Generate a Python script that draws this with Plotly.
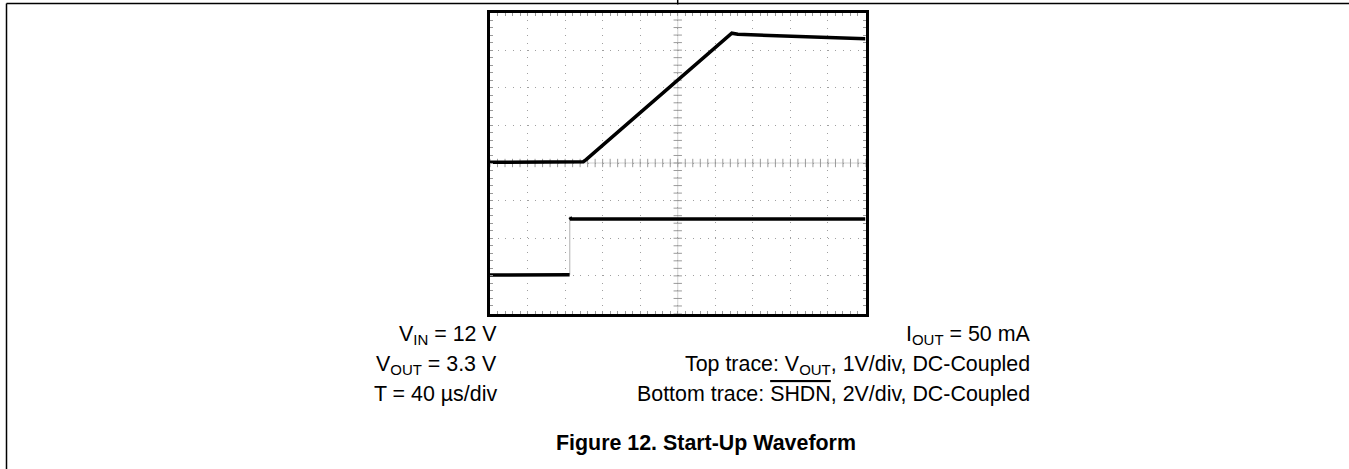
import numpy as np
import plotly.graph_objects as go

W, H = 1349, 469

# ---- data (in divisions: x 0-10, y 0-8) ----
vout_t = [0.0, 1.2, 2.485, 2.56, 6.38, 6.44, 6.6, 7.5, 8.5, 9.3, 10.0]
vout_v = [4.02, 4.03, 4.035, 4.09, 7.42, 7.45, 7.42, 7.39, 7.36, 7.33, 7.30]

shdn_low_t = [0.0, 1.0, 2.12]
shdn_low_v = [1.02, 1.03, 1.03]
shdn_high_t = [2.13, 2.16, 5.0, 10.0]
shdn_high_v = [2.56, 2.51, 2.51, 2.51]
shdn_edge_t = [2.125, 2.125]
shdn_edge_v = [1.03, 2.58]

left_labels = ["V<sub>IN</sub> = 12 V", "V<sub>OUT</sub> = 3.3 V", "T = 40 µs/div"]
right_labels = ["I<sub>OUT</sub> = 50 mA",
                "Top trace: V<sub>OUT</sub>, 1V/div, DC-Coupled",
                "Bottom trace: <span style=\"text-decoration:overline\">SHDN</span>, 2V/div, DC-Coupled"]
caption = "Figure 12. Start-Up Waveform"

# ---- layout geometry (pixels) ----
px0, px1 = 490, 865.5
py0, py1 = 12.5, 313.5
FONT = "Liberation Sans, Arial, sans-serif"
FS = 21.4
GRID = "#a0a0a0"
TICKC = "#9a9a9a"

fig = go.Figure()

# centre cross-hair tick marks
cx = np.round(np.arange(0, 10.001, 0.2), 3)
cy = np.round(np.arange(0, 8.001, 0.2), 3)
fig.add_trace(go.Scatter(x=cx, y=[4] * len(cx), mode="markers",
                         marker=dict(symbol="line-ns", size=6, line=dict(width=1, color=TICKC)),
                         hoverinfo="skip", showlegend=False))
fig.add_trace(go.Scatter(x=[5] * len(cy), y=cy, mode="markers",
                         marker=dict(symbol="line-ew", size=6, line=dict(width=1, color=TICKC)),
                         hoverinfo="skip", showlegend=False))

# traces
fig.add_trace(go.Scatter(x=shdn_edge_t, y=shdn_edge_v, mode="lines",
                         line=dict(color="#b0b0b0", width=1), showlegend=False))
fig.add_trace(go.Scatter(x=vout_t, y=vout_v, mode="lines",
                         line=dict(color="black", width=3.5), showlegend=False))
fig.add_trace(go.Scatter(x=shdn_low_t, y=shdn_low_v, mode="lines",
                         line=dict(color="black", width=3.5), showlegend=False))
fig.add_trace(go.Scatter(x=shdn_high_t, y=shdn_high_v, mode="lines",
                         line=dict(color="black", width=3.5), showlegend=False))

axis_common = dict(
    showgrid=True, gridcolor=GRID, gridwidth=1, griddash="1px,6.5px",
    zeroline=False, showticklabels=False,
    showline=True, linewidth=3, linecolor="black", mirror="allticks",
    ticks="inside", ticklen=3, tickcolor=TICKC, tickwidth=1,
    tick0=0, dtick=1, fixedrange=True,
)
fig.update_layout(
    width=W, height=H,
    margin=dict(l=0, r=0, t=0, b=0),
    paper_bgcolor="white", plot_bgcolor="white",
    showlegend=False,
    xaxis=dict(range=[0, 10], domain=[px0 / W, px1 / W],
               minor=dict(dtick=0.2, ticks="inside", ticklen=3, tickcolor=TICKC, showgrid=False),
               **axis_common),
    yaxis=dict(range=[0, 8], domain=[1 - py1 / H, 1 - py0 / H],
               minor=dict(dtick=0.2, ticks="inside", ticklen=3, tickcolor=TICKC, showgrid=False),
               **axis_common),
)

# cross-hair lines
fig.add_shape(type="line", xref="x", yref="y", x0=5, x1=5, y0=0, y1=8,
              line=dict(color="#d0d0d0", width=1), layer="below")
fig.add_shape(type="line", xref="x", yref="y", x0=0, x1=10, y0=4, y1=4,
              line=dict(color="#d0d0d0", width=1), layer="below")

# page frame
fig.add_shape(type="line", xref="paper", yref="paper", x0=6.5 / W, x1=1.0,
              y0=1 - 3.5 / H, y1=1 - 3.5 / H, line=dict(color="black", width=1.5))
fig.add_shape(type="line", xref="paper", yref="paper", x0=6.5 / W, x1=6.5 / W,
              y0=0, y1=1 - 3.5 / H, line=dict(color="black", width=1.5))
fig.add_shape(type="line", xref="paper", yref="paper", x0=677.7 / W, x1=677.7 / W,
              y0=1 - 4.5 / H, y1=1.0, line=dict(color="black", width=1.5))

# text
baselines = [341.7, 371.7, 401.7]
for i, b in enumerate(baselines):
    fig.add_annotation(x=499 / W, y=1 - (b - 22) / H, xref="paper", yref="paper",
                       xanchor="right", yanchor="top", showarrow=False,
                       text=left_labels[i], font=dict(family=FONT, size=FS, color="black"))
    fig.add_annotation(x=1032 / W, y=1 - (b - 22) / H, xref="paper", yref="paper",
                       xanchor="right", yanchor="top", showarrow=False,
                       text=right_labels[i], font=dict(family=FONT, size=FS, color="black"))

fig.add_annotation(x=705.5 / W, y=1 - (450.7 - 22) / H, xref="paper", yref="paper",
                   xanchor="center", yanchor="top", showarrow=False,
                   text="<b>" + caption + "</b>", font=dict(family=FONT, size=FS, color="black"))

fig.write_html("out.html", config={"displayModeBar": False, "staticPlot": True},
               post_script="document.body.style.margin='0';document.body.style.overflow='hidden';")
